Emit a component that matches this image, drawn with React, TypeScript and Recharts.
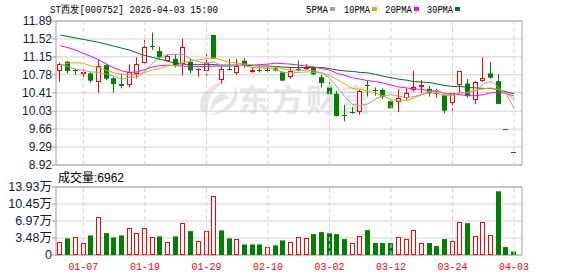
import { ComposedChart, Bar, Line, XAxis, YAxis, CartesianGrid, ReferenceLine, ReferenceArea } from 'recharts';

const dates = [
  '12-31', '01-05', '01-06', '01-07', '01-08', '01-09', '01-12', '01-13', '01-14', '01-15',
  '01-16', '01-19', '01-20', '01-21', '01-22', '01-23', '01-26', '01-27', '01-28', '01-29',
  '01-30', '02-02', '02-03', '02-04', '02-05', '02-06', '02-09', '02-10', '02-11', '02-12',
  '02-13', '02-24', '02-25', '02-26', '02-27', '03-02', '03-03', '03-04', '03-05', '03-06',
  '03-09', '03-10', '03-11', '03-12', '03-13', '03-16', '03-17', '03-18', '03-19', '03-20',
  '03-23', '03-24', '03-25', '03-26', '03-27', '03-30', '03-31', '04-01', '04-02', '04-03',
];
const tickDates = ['01-07', '01-19', '01-29', '02-10', '03-02', '03-12', '03-24', '04-03'];

const opens = [
  10.85, 11.05, 10.87, 10.78, 10.81, 10.64, 10.98, 10.71, 10.59, 10.56,
  10.8, 11.02, 11.37, 11.27, 11.07, 11.11, 11.0, 11.05, 10.89, 10.87,
  11.6, 10.67, 10.91, 10.83, 11.07, 10.83, 10.88, 10.87, 10.91, 10.83,
  10.72, 10.9, 10.91, 10.93, 10.73, 10.52, 10.39, 9.96, 10.02, 10.01,
  10.56, 10.46, 10.47, 10.24, 10.21, 10.3, 10.45, 10.52, 10.49, 10.37,
  10.37, 10.19, 10.58, 10.6, 10.25, 10.64, 10.81, 10.65, 9.67, 9.19,
];
const highs = [
  11.03, 11.07, 10.9, 10.9, 10.83, 11.09, 11.0, 10.73, 10.81, 11.0,
  11.14, 11.5, 11.65, 11.36, 11.2, 11.19, 11.52, 11.11, 10.91, 11.21,
  11.61, 10.98, 11.11, 11.11, 11.12, 10.94, 10.95, 10.93, 10.95, 10.85,
  10.93, 11.07, 11.0, 10.95, 10.78, 10.63, 10.45, 10.16, 10.12, 10.47,
  10.67, 10.52, 10.5, 10.28, 10.48, 10.5, 10.86, 10.67, 10.55, 10.49,
  10.37, 10.41, 10.86, 10.69, 10.65, 11.14, 11.04, 10.79, 9.67, 9.19,
];
const lows = [
  10.64, 10.81, 10.78, 10.74, 10.62, 10.41, 10.67, 10.41, 10.5, 10.52,
  10.7, 11.0, 11.29, 11.09, 11.07, 10.93, 10.77, 10.81, 10.74, 10.76,
  11.11, 10.6, 10.87, 10.78, 10.93, 10.82, 10.83, 10.83, 10.85, 10.66,
  10.7, 10.85, 10.88, 10.77, 10.52, 10.37, 9.92, 9.82, 9.98, 9.96,
  10.33, 10.35, 10.28, 10.09, 10.01, 10.26, 10.43, 10.4, 10.33, 10.31,
  9.99, 10.04, 10.4, 10.31, 10.18, 10.63, 10.7, 10.18, 9.67, 9.19,
];
const closes = [
  11.0, 10.86, 10.86, 10.83, 10.66, 10.96, 10.7, 10.59, 10.55, 10.83,
  11.0, 11.35, 11.36, 11.14, 11.17, 10.97, 11.35, 10.87, 10.9, 11.03,
  11.12, 10.9, 10.9, 10.97, 10.98, 10.88, 10.87, 10.87, 10.87, 10.66,
  10.85, 10.89, 10.95, 10.79, 10.61, 10.38, 9.93, 9.95, 10.0, 10.45,
  10.55, 10.45, 10.32, 10.09, 10.3, 10.41, 10.52, 10.57, 10.4, 10.4,
  10.04, 10.4, 10.86, 10.34, 10.63, 10.71, 10.72, 10.18, 9.67, 9.19,
];

const ma5 = [
  11.0, 10.95, 10.9, 10.87, 10.84, 10.83, 10.8, 10.75, 10.69, 10.73,
  10.73, 10.86, 11.02, 11.14, 11.2, 11.2, 11.2, 11.1, 11.05, 11.02,
  11.05, 10.96, 10.97, 10.98, 10.97, 10.93, 10.92, 10.91, 10.89, 10.83,
  10.82, 10.83, 10.84, 10.83, 10.82, 10.72, 10.53, 10.33, 10.17, 10.14,
  10.18, 10.28, 10.35, 10.37, 10.34, 10.31, 10.33, 10.38, 10.44, 10.46,
  10.39, 10.36, 10.42, 10.41, 10.45, 10.59, 10.65, 10.52, 10.38, 10.09,
];
const ma10 = [
  10.97, 11.02, 11.03, 11.02, 10.96, 10.93, 10.87, 10.82, 10.79, 10.78,
  10.78, 10.83, 10.88, 10.91, 10.97, 10.97, 11.03, 11.06, 11.09, 11.11,
  11.13, 11.08, 11.04, 11.02, 11.0, 10.99, 10.94, 10.94, 10.94, 10.9,
  10.88, 10.87, 10.88, 10.86, 10.82, 10.77, 10.68, 10.59, 10.5, 10.48,
  10.45, 10.41, 10.34, 10.27, 10.24, 10.25, 10.3, 10.37, 10.41, 10.4,
  10.35, 10.35, 10.4, 10.42, 10.46, 10.49, 10.51, 10.47, 10.4, 10.27,
];
const ma20 = [
  11.38, 11.34, 11.29, 11.22, 11.16, 11.09, 11.0, 10.92, 10.86, 10.83,
  10.84, 10.89, 10.94, 10.97, 10.98, 10.97, 10.96, 10.95, 10.95, 10.95,
  10.96, 10.96, 10.96, 10.97, 10.98, 10.98, 10.99, 11.0, 11.02, 11.01,
  11.0, 10.98, 10.96, 10.94, 10.91, 10.88, 10.81, 10.77, 10.72, 10.69,
  10.66, 10.64, 10.61, 10.57, 10.53, 10.51, 10.49, 10.48, 10.45, 10.44,
  10.4, 10.38, 10.37, 10.35, 10.35, 10.37, 10.41, 10.42, 10.4, 10.34,
];
const ma30 = [
  11.6, 11.57, 11.54, 11.51, 11.48, 11.45, 11.41, 11.37, 11.33, 11.29,
  11.23, 11.18, 11.14, 11.1, 11.06, 11.02, 11.0, 10.99, 10.99, 10.99,
  10.99, 10.98, 10.98, 10.98, 10.97, 10.97, 10.96, 10.96, 10.95, 10.94,
  10.93, 10.93, 10.93, 10.93, 10.93, 10.91, 10.88, 10.86, 10.85, 10.83,
  10.82, 10.79, 10.75, 10.72, 10.69, 10.67, 10.64, 10.63, 10.62, 10.59,
  10.56, 10.54, 10.54, 10.52, 10.51, 10.5, 10.5, 10.47, 10.43, 10.39,
];

const volumes = [
  25800, 34000, 37400, 23800, 40100, 78800, 44800, 36000, 40100, 54400,
  44200, 54400, 36000, 38100, 25800, 38100, 64600, 48900, 27900, 48200,
  121600, 50300, 34000, 31900, 21700, 21700, 21700, 15600, 19700, 29900,
  25800, 36000, 34000, 42800, 46900, 44800, 42800, 32600, 23800, 38100,
  51000, 24500, 24500, 24500, 36000, 31900, 50300, 23800, 24500, 18300,
  32600, 27900, 68600, 65200, 38100, 67300, 40100, 130500, 16300, 6962,
];
// true = red (up) volume bar, false = green
const volumeUp = [
  true, false, true, true, false, true, false, false, false, true,
  true, true, true, false, true, false, true, false, true, true,
  true, false, false, true, false, false, false, true, false, false,
  true, true, true, false, false, false, false, false, true, true,
  false, false, false, false, true, true, true, true, false, false,
  false, true, true, false, true, true, true, false, false, false,
];

const priceTicks = [8.92, 9.29, 9.66, 10.03, 10.41, 10.78, 11.15, 11.52, 11.89];
const volumeTicks = [0, 34825, 69650, 104475, 139300];
const volumeTickLabels = ['0', '3.48万', '6.97万', '10.45万', '13.93万'];

const X_DOMAIN: [number, number] = [-0.56, 60.04];
const PRICE_DOMAIN: [number, number] = [8.92, 11.89];
const VOL_DOMAIN: [number, number] = [0, 139300];

const RED = '#ff0000';
const GREEN = '#008000';
const AXIS_TEXT = '#0d1c3a';
const GRID = '#d2d2d2';
const BORDER = '#a0a0a0';
const MONO = '"Liberation Mono", "DejaVu Sans Mono", monospace';
const SANS = '"Liberation Sans", Arial, "Noto Sans CJK SC", sans-serif';

const rows = dates.map((date, i) => ({
  idx: i,
  date,
  open: opens[i],
  high: highs[i],
  low: lows[i],
  close: closes[i],
  prevClose: i > 0 ? closes[i - 1] : opens[i],
  range: [lows[i], highs[i]],
  ma5: ma5[i],
  ma10: ma10[i],
  ma20: ma20[i],
  ma30: ma30[i],
  volume: volumes[i],
  volumeUp: volumeUp[i],
}));

const tickIdx = tickDates.map((d) => dates.indexOf(d));

function Candle(props: any) {
  const { x, y, width, height, payload } = props;
  if (x == null || y == null || !payload) return null;
  const { open, close, high, low, prevClose } = payload;
  const same = close === open;
  const up = close > open || (same && close > prevClose);
  const flat = same && close === prevClose;
  const color = flat ? '#000' : up ? RED : GREEN;
  const span = high - low;
  const k = span > 0 ? height / span : 0;
  const yOf = (v: number) => y + (high - v) * k;
  const left = Math.round(x);
  const w = Math.max(1, Math.round(width));
  const cx = left + Math.floor(w / 2) + 0.5;
  const top = yOf(Math.max(open, close));
  const bot = yOf(Math.min(open, close));
  const bodyH = bot - top;
  let body;
  if (bodyH < 1.5) {
    const ly = Math.round(top) + 0.5;
    body = <line x1={left} x2={left + w} y1={ly} y2={ly} stroke={color} />;
  } else if (up) {
    body = (
      <rect x={left + 0.5} y={Math.round(top) + 0.5} width={w - 1} height={Math.round(bodyH) - 1} fill="#fff" stroke={color} />
    );
  } else {
    body = <rect x={left} y={top} width={w} height={bodyH} fill={color} />;
  }
  return (
    <g>
      {height > 0 && <line x1={cx} x2={cx} y1={y} y2={y + height} stroke={color} />}
      {body}
    </g>
  );
}

function VolumeBar(props: any) {
  const { x, y, width, height, payload } = props;
  if (x == null || y == null || !payload) return null;
  const left = Math.round(x);
  const w = Math.max(1, Math.round(width));
  if (payload.volumeUp) {
    return (
      <rect x={left + 0.5} y={Math.round(y) + 0.5} width={w - 1} height={Math.max(0, Math.round(height) - 1)} fill="#fff" stroke={RED} />
    );
  }
  return <rect x={left} y={y} width={w} height={height} fill={GREEN} />;
}

function DateTick(props: any) {
  const { x, y, payload } = props;
  return (
    <text x={x} y={y} dy={9} textAnchor="middle" fill={RED} fontFamily={MONO} fontSize={11} textLength={30} lengthAdjust="spacingAndGlyphs">
      {dates[payload.value]}
    </text>
  );
}

const legend = [
  { label: '5PMA', color: '#a0a0a0', x: 306, len: 22 },
  { label: '10PMA', color: '#f5a300', x: 344, len: 26 },
  { label: '20PMA', color: '#ff00ff', x: 385, len: 27 },
  { label: '30PMA', color: '#006b35', x: 427, len: 26 },
];

export default function App() {
  return (
    <div style={{ position: 'absolute', left: 0, top: 0, width: 578, height: 276, background: '#fff', overflow: 'hidden' }}>
      {/* watermark */}
      <svg width={578} height={276} style={{ position: 'absolute', left: 0, top: 0 }}>
        <g fill="#e6e6ea">
          <path d="M 227 80 C 210 83 198 96 200 108 C 201 112 205 114 208 111 C 206 100 213 89 227 80 Z" />
          <path d="M 234 86 C 237 99 226 111 209 115 C 223 115 234 108 237 98 C 238 93 237 89 234 86 Z" />
          <path d="M 223 92 C 214 96 209 104 211 111 C 215 104 221 100 230 98 Z" />
        </g>
        <text x={238} y={111} fill="#e6e6ea" fontSize={31} fontWeight={700} fontFamily='"Noto Sans CJK SC", sans-serif' letterSpacing={3}>
          东方财富
        </text>
      </svg>

      <div style={{ position: 'absolute', left: 0, top: 0 }}>
        <ComposedChart width={578} height={176} data={rows} margin={{ top: 21, right: 56, bottom: 11, left: 6 }}>
          <CartesianGrid vertical={false} stroke={GRID} />
          <XAxis type="number" dataKey="idx" domain={X_DOMAIN} ticks={tickIdx} hide allowDataOverflow />
          <YAxis
            domain={PRICE_DOMAIN}
            ticks={priceTicks}
            interval={0}
            width={50}
            allowDataOverflow
            axisLine={false}
            tickSize={4}
            tickMargin={0}
            tickLine={{ stroke: BORDER }}
            tick={{ fill: AXIS_TEXT, fontSize: 12, fontFamily: SANS }}
            tickFormatter={(v: number) => v.toFixed(2)}
          />
          {tickIdx.map((i) => (
            <ReferenceLine key={i} x={i} stroke={GRID} strokeDasharray="4 3" />
          ))}
          <ReferenceArea x1={X_DOMAIN[0]} x2={X_DOMAIN[1]} y1={PRICE_DOMAIN[0]} y2={PRICE_DOMAIN[1]} fill="none" stroke={BORDER} />
          <Bar dataKey="range" barSize={5} shape={<Candle />} isAnimationActive={false} />
          <Line dataKey="ma30" stroke="#006b35" dot={false} strokeWidth={1} isAnimationActive={false} />
          <Line dataKey="ma20" stroke="#ff00ff" dot={false} strokeWidth={1} isAnimationActive={false} />
          <Line dataKey="ma10" stroke="#f5a300" dot={false} strokeWidth={1} isAnimationActive={false} />
          <Line dataKey="ma5" stroke="#a0a0a0" dot={false} strokeWidth={1} isAnimationActive={false} />
        </ComposedChart>
      </div>

      <div style={{ position: 'absolute', left: 0, top: 180 }}>
        <ComposedChart width={578} height={96} data={rows} margin={{ top: 7, right: 56, bottom: 0, left: 6 }}>
          <CartesianGrid vertical={false} stroke={GRID} />
          <XAxis
            type="number"
            dataKey="idx"
            domain={X_DOMAIN}
            ticks={tickIdx}
            interval={0}
            allowDataOverflow
            height={21}
            axisLine={false}
            tickLine={false}
            tickSize={0}
            tickMargin={6}
            tick={<DateTick />}
          />
          <YAxis
            domain={VOL_DOMAIN}
            ticks={volumeTicks}
            interval={0}
            width={50}
            allowDataOverflow
            axisLine={false}
            tickSize={4}
            tickMargin={0}
            tickLine={{ stroke: BORDER }}
            tick={{ fill: AXIS_TEXT, fontSize: 12.5, fontFamily: SANS }}
            tickFormatter={(v: number) => volumeTickLabels[volumeTicks.indexOf(v)] ?? ''}
          />
          {tickIdx.map((i) => (
            <ReferenceLine key={i} x={i} stroke={GRID} strokeDasharray="4 3" />
          ))}
          <ReferenceArea x1={X_DOMAIN[0]} x2={X_DOMAIN[1]} y1={VOL_DOMAIN[0]} y2={VOL_DOMAIN[1]} fill="none" stroke={BORDER} />
          <Bar dataKey="volume" barSize={5} shape={<VolumeBar />} isAnimationActive={false} />
        </ComposedChart>
      </div>

      {/* header texts */}
      <svg width={578} height={276} style={{ position: 'absolute', left: 0, top: 0, pointerEvents: 'none' }}>
        <text x={50} y={12.5} fill="#000" fontFamily={MONO} fontSize={11} textLength={168} lengthAdjust="spacingAndGlyphs">
          ST西发[000752] 2026-04-03 15:00
        </text>
        {legend.map((l) => (
          <g key={l.label}>
            <text x={l.x} y={12.5} fill="#000" fontFamily={MONO} fontSize={11} textLength={l.len} lengthAdjust="spacingAndGlyphs">
              {l.label}
            </text>
            <rect x={l.x + l.len + 2} y={7} width={5} height={4} fill={l.color} />
          </g>
        ))}
        <text x={58} y={182} fill="#000" fontFamily={SANS} fontSize={12}>
          成交量:6962
        </text>
      </svg>
    </div>
  );
}
